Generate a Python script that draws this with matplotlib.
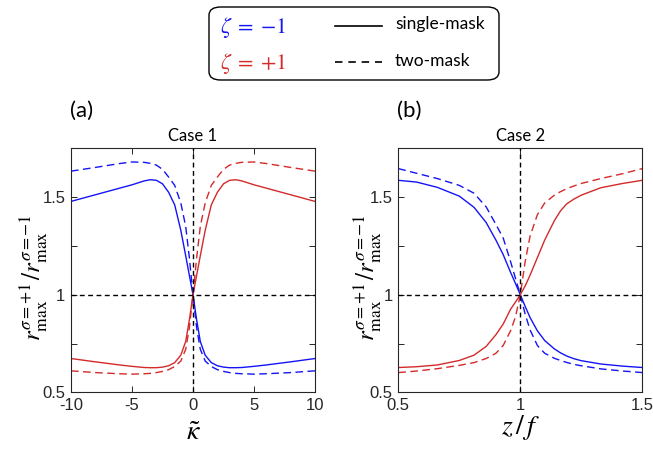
"""Ratio r_max(sigma=+1)/r_max(sigma=-1) for case 1 and case 2."""

import matplotlib

matplotlib.use("Agg")
import matplotlib.pyplot as plt
from matplotlib.lines import Line2D
from matplotlib.patches import FancyBboxPatch

plt.rcParams["mathtext.fontset"] = "stix"
plt.rcParams["font.family"] = ["Liberation Sans", "DejaVu Sans"]

BLUE = "#1414f5"
RED = "#d42a2a"
AX_COLOR = "#262626"
LABEL_FONT = ["Lato", "DejaVu Sans"]

# ---- Case 1: vs kappa tilde ----
KAPPA = [-10, -8, -6, -5, -4, -3.5, -3, -2.5, -2, -1.5, -1, -0.6, -0.3, 0,
         0.3, 0.6, 1, 1.5, 2, 2.5, 3, 3.5, 4, 5, 6, 8, 10]
C1_BLUE_SINGLE = [1.478, 1.512, 1.546, 1.563, 1.583, 1.589, 1.586, 1.568,
                  1.525, 1.46, 1.33, 1.2, 1.1, 1.0, 0.87, 0.76, 0.69, 0.652,
                  0.636, 0.629, 0.626, 0.626, 0.627, 0.633, 0.64, 0.656, 0.673]
C1_RED_SINGLE = [0.673, 0.656, 0.64, 0.633, 0.627, 0.626, 0.626, 0.629,
                 0.636, 0.652, 0.69, 0.76, 0.87, 1.0, 1.1, 1.2, 1.33, 1.46,
                 1.525, 1.568, 1.586, 1.589, 1.583, 1.563, 1.546, 1.512, 1.478]
C1_BLUE_TWO = [1.633, 1.652, 1.672, 1.68, 1.678, 1.673, 1.664, 1.642, 1.603,
               1.56, 1.47, 1.35, 1.19, 1.0, 0.83, 0.72, 0.66, 0.632, 0.616,
               0.607, 0.601, 0.597, 0.595, 0.593, 0.595, 0.601, 0.61]
C1_RED_TWO = [0.61, 0.601, 0.595, 0.593, 0.595, 0.597, 0.601, 0.607, 0.616,
              0.632, 0.66, 0.72, 0.83, 1.0, 1.19, 1.35, 1.47, 1.56, 1.603,
              1.642, 1.664, 1.673, 1.678, 1.68, 1.672, 1.652, 1.633]

# ---- Case 2: vs z/f ----
ZF = [0.5, 0.575, 0.66, 0.75, 0.81, 0.86, 0.9, 0.93, 0.96, 0.98, 1.0, 1.02,
      1.04, 1.07, 1.1, 1.14, 1.165, 1.19, 1.22, 1.25, 1.33, 1.42, 1.5]
C2_BLUE_SINGLE = [1.586, 1.577, 1.55, 1.505, 1.448, 1.37, 1.28, 1.205, 1.115,
                  1.058, 1.0, 0.94, 0.883, 0.815, 0.765, 0.722, 0.702, 0.686,
                  0.672, 0.662, 0.645, 0.634, 0.627]
C2_RED_SINGLE = [0.627, 0.631, 0.64, 0.663, 0.69, 0.735, 0.795, 0.85, 0.925,
                 0.962, 1.0, 1.045, 1.1, 1.19, 1.28, 1.38, 1.43, 1.465, 1.49,
                 1.51, 1.548, 1.57, 1.586]
C2_BLUE_TWO = [1.646, 1.622, 1.595, 1.56, 1.52, 1.45, 1.36, 1.29, 1.17,
               1.085, 1.0, 0.9, 0.82, 0.74, 0.7, 0.674, 0.663, 0.653, 0.643,
               0.636, 0.62, 0.609, 0.601]
C2_RED_TWO = [0.601, 0.609, 0.621, 0.638, 0.652, 0.673, 0.7, 0.74, 0.815,
              0.885, 1.0, 1.17, 1.3, 1.41, 1.47, 1.51, 1.528, 1.543, 1.557,
              1.57, 1.595, 1.62, 1.646]

PANELS = [
    {"x": KAPPA, "series": (C1_BLUE_SINGLE, C1_RED_SINGLE, C1_BLUE_TWO, C1_RED_TWO),
     "xlim": (-10, 10), "xticks": [-10, -5, 0, 5, 10], "xtick_labels": ["-10", "-5", "0", "5", "10"],
     "center": 0, "title": "Case 1", "tag": "(a)", "xlabel": r"$\tilde{\kappa}$",
     "left": 71, "ylab_x": -0.156, "xlab_y": -0.165},
    {"x": ZF, "series": (C2_BLUE_SINGLE, C2_RED_SINGLE, C2_BLUE_TWO, C2_RED_TWO),
     "xlim": (0.5, 1.5), "xticks": [0.5, 1, 1.5], "xtick_labels": ["0.5", "1", "1.5"],
     "center": 1, "title": "Case 2", "tag": "(b)", "xlabel": r"$z\,/\,f$",
     "left": 398.3, "ylab_x": -0.13, "xlab_y": -0.143},
]

YLABEL = r"$r^{\sigma=+1}_{\mathrm{max}}\,/r^{\sigma=-1}_{\mathrm{max}}$"

W, H = 653, 454
CURVE_DASH = (5.5, 3.2)
REF_DASH = (3.5, 2.5)


def main() -> None:
    fig = plt.figure(figsize=(W / 100, H / 100), dpi=100)

    for p in PANELS:
        ax = fig.add_axes([p["left"] / W, 1 - 392.3 / H, 244 / W, 244 / H])
        x = p["x"]
        blue_s, red_s, blue_t, red_t = p["series"]

        ax.axhline(1, color="black", lw=1.0, dashes=REF_DASH, zorder=3)
        ax.axvline(p["center"], color="black", lw=1.0, dashes=REF_DASH, zorder=3)

        ax.plot(x, blue_s, color=BLUE, lw=1.0)
        ax.plot(x, red_s, color=RED, lw=1.0)
        ax.plot(x, blue_t, color=BLUE, lw=1.0, dashes=CURVE_DASH)
        ax.plot(x, red_t, color=RED, lw=1.0, dashes=CURVE_DASH)

        ax.set_xlim(*p["xlim"])
        ax.set_ylim(0.5, 1.75)
        ax.set_xticks(p["xticks"])
        ax.set_xticklabels(p["xtick_labels"])
        ax.set_yticks([0.5, 0.75, 1, 1.25, 1.5])
        ax.set_yticklabels(["0.5", "", "1", "", "1.5"])
        ax.tick_params(direction="in", top=True, right=True, length=4,
                       width=0.7, labelsize=12, colors=AX_COLOR, pad=4)
        for s in ax.spines.values():
            s.set_linewidth(0.8)
            s.set_color(AX_COLOR)

        ax.set_title(p["title"], fontsize=12, family=LABEL_FONT, pad=5)
        ax.text(-0.005, 1.155, p["tag"], transform=ax.transAxes, fontsize=16,
                family=LABEL_FONT, ha="left", va="center")

        ax.set_ylabel(YLABEL, fontsize=18, va="center")
        ax.yaxis.set_label_coords(p["ylab_x"], 0.47)
        ax.set_xlabel(p["xlabel"], fontsize=20, va="center")
        ax.xaxis.set_label_coords(0.5, p["xlab_y"])

    # legend box drawn by hand in figure pixels
    box = FancyBboxPatch((209 / W, 1 - 80 / H), 290 / W, 73 / H,
                         boxstyle="round,pad=0,rounding_size=0.018",
                         transform=fig.transFigure, facecolor="white",
                         edgecolor="black", linewidth=1.0)
    fig.patches.append(box)
    fig.text(220 / W, 1 - 27 / H, r"$\zeta\;=\;{-}1$", color=BLUE, fontsize=16,
             va="center", ha="left")
    fig.text(220 / W, 1 - 63 / H, r"$\zeta\;=\;{+}1$", color=RED, fontsize=16,
             va="center", ha="left")
    fig.lines.append(Line2D([335 / W, 382 / W], [1 - 25.7 / H] * 2,
                            transform=fig.transFigure, color="black", lw=1.2))
    fig.lines.append(Line2D([335 / W, 382 / W], [1 - 62 / H] * 2,
                            transform=fig.transFigure, color="black", lw=1.2,
                            dashes=(4.5, 3.5)))
    fig.text(395 / W, 1 - 24 / H, "single-mask", fontsize=12.5,
             family=LABEL_FONT, va="center", ha="left")
    fig.text(395 / W, 1 - 61 / H, "two-mask", fontsize=12.5,
             family=LABEL_FONT, va="center", ha="left")

    fig.savefig("out.png", dpi=100)


if __name__ == "__main__":
    main()
